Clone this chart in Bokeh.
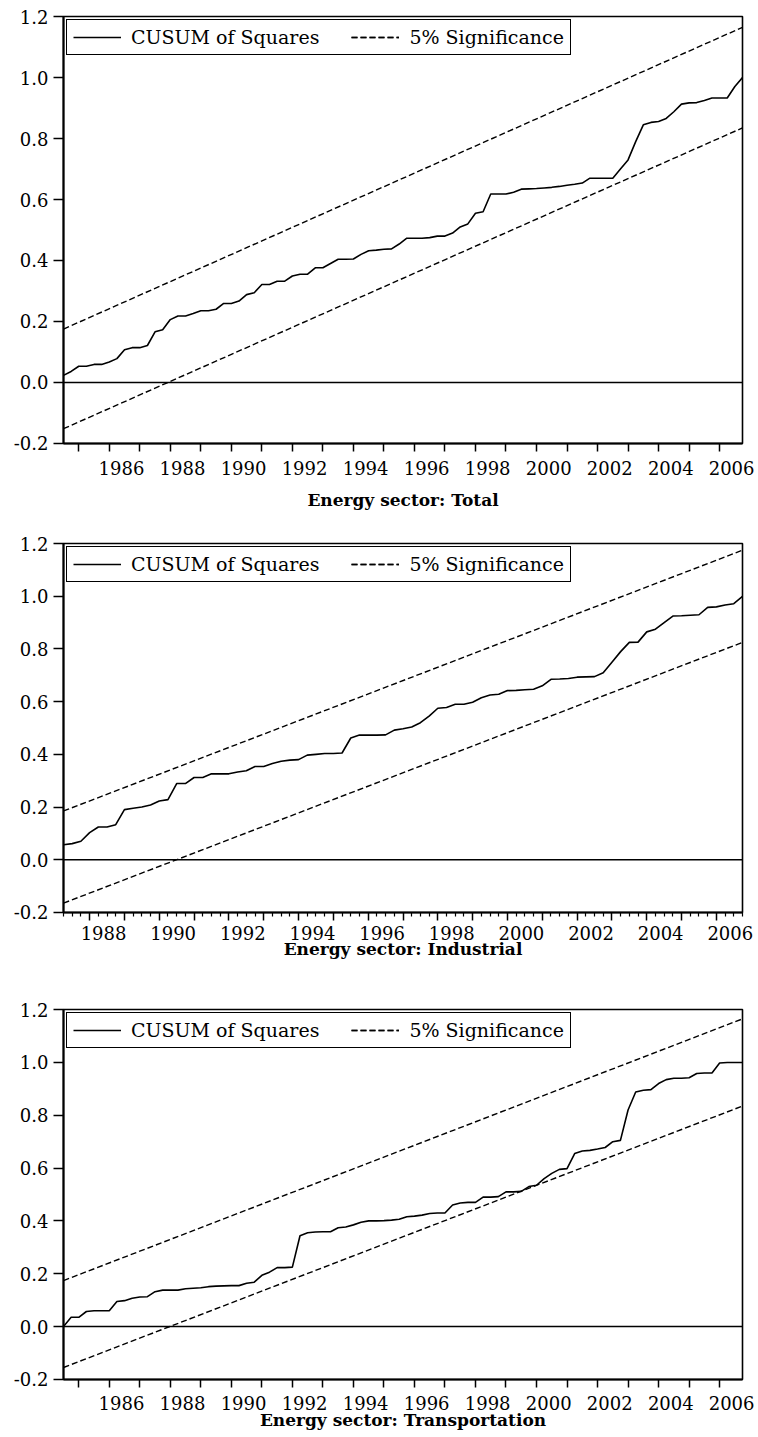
import pandas as pd
from bokeh.plotting import figure
from bokeh.layouts import column
from bokeh.models import (Range1d, LinearAxis, FixedTicker, CustomJSTickFormatter,
                          NumeralTickFormatter, Span)
from bokeh.embed import file_html
from bokeh.resources import INLINE

# ---------------- data ----------------
quarters_total = pd.period_range("1984Q3", "2006Q4", freq="Q")
quarters_ind = pd.period_range("1987Q2", "2006Q4", freq="Q")
quarters_tr = pd.period_range("1984Q3", "2006Q4", freq="Q")

cusum_total = [
    0.023, 0.036, 0.053, 0.053, 0.059, 0.059, 0.067, 0.078, 0.107, 0.114,
    0.114, 0.121, 0.166, 0.173, 0.206, 0.218, 0.218, 0.226, 0.235, 0.235,
    0.240, 0.259, 0.259, 0.267, 0.288, 0.294, 0.321, 0.321, 0.332, 0.332,
    0.349, 0.355, 0.355, 0.376, 0.376, 0.390, 0.404, 0.404, 0.405, 0.420,
    0.432, 0.434, 0.437, 0.438, 0.454, 0.473, 0.473, 0.473, 0.475, 0.480,
    0.480, 0.490, 0.510, 0.520, 0.555, 0.560, 0.618, 0.618, 0.618, 0.624,
    0.634, 0.635, 0.636, 0.638, 0.640, 0.643, 0.647, 0.650, 0.654, 0.670,
    0.670, 0.670, 0.670, 0.700, 0.730, 0.790, 0.845, 0.853, 0.856, 0.866,
    0.888, 0.913, 0.917, 0.918, 0.925, 0.933, 0.933, 0.933, 0.971, 1.000,
]
cusum_ind = [
    0.057, 0.061, 0.070, 0.103, 0.124, 0.124, 0.133, 0.190, 0.195, 0.200,
    0.208, 0.223, 0.228, 0.289, 0.289, 0.312, 0.312, 0.326, 0.326, 0.326,
    0.333, 0.338, 0.354, 0.354, 0.365, 0.374, 0.378, 0.380, 0.397, 0.400,
    0.403, 0.403, 0.405, 0.462, 0.473, 0.473, 0.473, 0.474, 0.492, 0.497,
    0.504, 0.520, 0.545, 0.575, 0.578, 0.590, 0.590, 0.598, 0.615, 0.625,
    0.628, 0.642, 0.643, 0.645, 0.647, 0.660, 0.685, 0.686, 0.688, 0.693,
    0.694, 0.695, 0.710, 0.750, 0.790, 0.825, 0.826, 0.865, 0.875, 0.900,
    0.925, 0.926, 0.928, 0.930, 0.958, 0.960, 0.967, 0.972, 1.000,
]
cusum_tr = [
    0.000, 0.035, 0.035, 0.057, 0.060, 0.060, 0.060, 0.095, 0.098, 0.107,
    0.112, 0.113, 0.132, 0.138, 0.138, 0.138, 0.143, 0.145, 0.147, 0.151,
    0.153, 0.154, 0.155, 0.155, 0.164, 0.168, 0.194, 0.206, 0.223, 0.223,
    0.225, 0.344, 0.355, 0.358, 0.359, 0.359, 0.374, 0.377, 0.385, 0.395,
    0.400, 0.400, 0.401, 0.403, 0.406, 0.416, 0.418, 0.422, 0.428, 0.430,
    0.430, 0.460, 0.468, 0.470, 0.470, 0.490, 0.490, 0.492, 0.510, 0.510,
    0.512, 0.530, 0.535, 0.560, 0.580, 0.595, 0.598, 0.655, 0.665, 0.667,
    0.672, 0.678, 0.700, 0.705, 0.820, 0.888, 0.895, 0.897, 0.920, 0.935,
    0.940, 0.940, 0.942, 0.958, 0.960, 0.960, 0.998, 1.000, 1.000, 1.000,
]

# 5% significance bounds (first and last observation)
sig_upper_total = [0.175, 1.165]
sig_lower_total = [-0.152, 0.835]
sig_upper_ind = [0.185, 1.175]
sig_lower_ind = [-0.165, 0.825]
sig_upper_tr = [0.174, 1.165]
sig_lower_tr = [-0.155, 0.835]

y_ticks = [-0.2, 0.0, 0.2, 0.4, 0.6, 0.8, 1.0, 1.2]
year_ticks_a = list(range(1985, 2007))
year_labels_a = [1986, 1988, 1990, 1992, 1994, 1996, 1998, 2000, 2002, 2004, 2006]
year_ticks_b = list(range(1988, 2007))
year_labels_b = [1988, 1990, 1992, 1994, 1996, 1998, 2000, 2002, 2004, 2006]

titles = ["Energy sector: Total", "Energy sector: Industrial",
          "Energy sector: Transportation"]
series_names = ["CUSUM of Squares", "5% Significance"]

FONT = "DejaVu Serif"
LABEL_SHIFT = 0.4


def to_x(quarters):
    return [q.year + (q.quarter - 1) / 4 for q in quarters]


def make_panel(quarters, cusum, up, lo, title, yticks_years, ylabels_years,
               minor, height, top, frame_h, lab_standoff, title_standoff):
    x = to_x(quarters)
    p = figure(width=754, height=height,
               x_range=Range1d(x[0], x[-1]), y_range=Range1d(-0.2005, 1.2005),
               x_axis_type=None, y_axis_type=None,
               output_backend="svg", toolbar_location=None,
               min_border_left=63, min_border_right=12, min_border_top=top,
               min_border_bottom=height - top - frame_h)
    p.outline_line_color = "black"
    p.outline_line_alpha = 1.0
    p.outline_line_width = 1.6
    p.background_fill_color = "white"
    p.border_fill_color = "white"

    # left axis
    ya = LinearAxis(ticker=FixedTicker(ticks=y_ticks),
                    formatter=NumeralTickFormatter(format="0.0"))
    ya.major_tick_out = 10
    ya.major_tick_in = 0
    ya.minor_tick_out = 0
    ya.minor_tick_in = 0
    ya.axis_line_width = 2
    ya.axis_line_color = "black"
    ya.major_tick_line_color = "black"
    ya.major_tick_line_width = 1.5
    ya.major_label_standoff = 5
    ya.major_label_text_font = FONT
    ya.major_label_text_font_size = "18px"
    ya.major_label_text_color = "black"
    p.add_layout(ya, "left")

    # bottom axis with tick marks at year starts
    minor_ticks = []
    if minor:
        minor_ticks = [y + k / 4 for y in range(int(x[0]), int(x[-1]) + 1)
                       for k in (1, 2, 3)]
    xa = LinearAxis(ticker=FixedTicker(ticks=yticks_years, minor_ticks=minor_ticks),
                    formatter=CustomJSTickFormatter(code="return '';"))
    xa.major_tick_out = 8
    xa.major_tick_in = 0
    xa.minor_tick_out = 4 if minor else 0
    xa.minor_tick_in = 0
    xa.axis_line_width = 2
    xa.axis_line_color = "black"
    xa.major_tick_line_color = "black"
    xa.major_tick_line_width = 1.5
    xa.minor_tick_line_color = "black"
    xa.minor_tick_line_width = 1.2
    xa.major_label_text_font_size = "0px"
    xa.major_label_standoff = 0
    p.add_layout(xa, "below")

    # labels axis (labels sit a bit right of year tick)
    xb = LinearAxis(ticker=FixedTicker(ticks=[y + LABEL_SHIFT for y in ylabels_years]),
                    formatter=CustomJSTickFormatter(
                        code="return String(Math.round(tick - %s));" % LABEL_SHIFT))
    xb.axis_line_color = None
    xb.major_tick_line_color = None
    xb.minor_tick_line_color = None
    xb.major_tick_out = 0
    xb.major_tick_in = 0
    xb.major_label_standoff = lab_standoff
    xb.major_label_text_font = FONT
    xb.major_label_text_font_size = "18px"
    xb.major_label_text_color = "black"
    xb.axis_label = title
    xb.axis_label_text_font = FONT
    xb.axis_label_text_font_style = "bold"
    xb.axis_label_text_font_size = "17px"
    xb.axis_label_text_color = "black"
    xb.axis_label_standoff = title_standoff
    p.add_layout(xb, "below")

    p.add_layout(Span(location=0, dimension="width", line_color="black",
                      line_width=1.5))

    p.line(x, cusum, line_color="black", line_width=1.6,
           legend_label=series_names[0])
    p.line([x[0], x[-1]], up, line_color="black", line_width=1.4,
           line_dash="6 3", legend_label=series_names[1])
    p.line([x[0], x[-1]], lo, line_color="black", line_width=1.4,
           line_dash="6 3", legend_label=series_names[1])

    lg = p.legend[0]
    lg.location = "top_left"
    lg.orientation = "horizontal"
    lg.margin = 3
    lg.padding = 6
    lg.spacing = 32
    lg.glyph_width = 48
    lg.label_standoff = 10
    lg.label_text_font = FONT
    lg.label_text_font_size = "19px"
    lg.label_text_color = "black"
    lg.border_line_color = "black"
    lg.border_line_alpha = 1.0
    lg.border_line_width = 1.5
    lg.background_fill_color = "white"
    lg.background_fill_alpha = 1.0
    return p


p1 = make_panel(quarters_total, cusum_total, sig_upper_total, sig_lower_total,
                titles[0], year_ticks_a, year_labels_a, False,
                535, 16, 427, 9, 12)
p2 = make_panel(quarters_ind, cusum_ind, sig_upper_ind, sig_lower_ind,
                titles[1], year_ticks_b, year_labels_b, True,
                466, 8, 369, 5, -4)
p3 = make_panel(quarters_tr, cusum_tr, sig_upper_tr, sig_lower_tr,
                titles[2], year_ticks_a, year_labels_a, False,
                434, 8, 370, 8, -3)

layout = column(p1, p2, p3, spacing=0)
open("out.html", "w").write(file_html(layout, INLINE))
